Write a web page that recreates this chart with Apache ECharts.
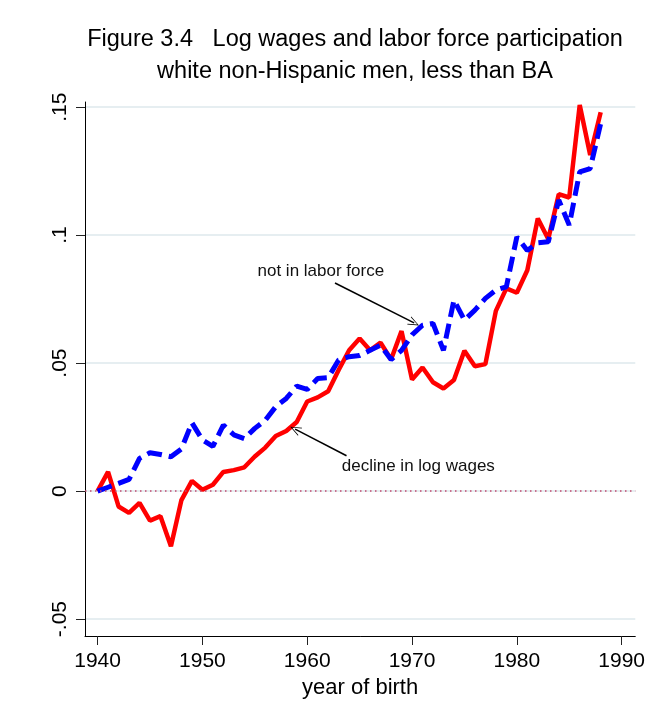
<!DOCTYPE html>
<html>
<head>
<meta charset="utf-8">
<script src="https://cdn.jsdelivr.net/npm/echarts@6/dist/echarts.min.js"></script>
<style>
  html, body { margin: 0; padding: 0; background: #fff; }
  #main { width: 648px; height: 715px; }
</style>
</head>
<body>
<div id="main"></div>
<script>
const years = [];
for (let y = 1940; y <= 1988; y++) years.push(y);

// decline in log wages (red)
const wageDecline = [
  0, 0.0075, -0.006, -0.0085, -0.0046, -0.0115, -0.0098, -0.0215, -0.0035, 0.004,
  0.0005, 0.0025, 0.0075, 0.0082, 0.0093, 0.0135, 0.017, 0.0215, 0.0235, 0.027,
  0.035, 0.0366, 0.039, 0.0473, 0.055, 0.0596, 0.055, 0.058, 0.0514, 0.0625,
  0.0436, 0.0483, 0.0425, 0.0401, 0.0434, 0.0548, 0.0488, 0.0496, 0.0704, 0.0792,
  0.0775, 0.0863, 0.1065, 0.0985, 0.116, 0.1147, 0.1508, 0.1313, 0.148
];

// not in labor force (blue dashed)
const notInLabor = [
  0, 0.0015, 0.003, 0.0046, 0.0128, 0.015, 0.0143, 0.0134, 0.0165, 0.0267,
  0.02, 0.0175, 0.0258, 0.022, 0.0205, 0.0245, 0.0277, 0.033, 0.0362, 0.041,
  0.0397, 0.044, 0.0443, 0.0512, 0.0525, 0.053, 0.055, 0.057, 0.0514, 0.055,
  0.061, 0.0648, 0.0655, 0.055, 0.0746, 0.0668, 0.0707, 0.0753, 0.0785, 0.0798,
  0.0993, 0.094, 0.097, 0.0974, 0.1137, 0.1039, 0.1247, 0.126, 0.1436
];

const xTicks = [1940, 1950, 1960, 1970, 1980, 1990];
const yTicks = [-0.05, 0, 0.05, 0.1, 0.15];
const yTickLabels = ['-.05', '0', '.05', '.1', '.15'];

const font = 'Liberation Sans, Arial, sans-serif';
const chart = echarts.init(document.getElementById('main'));

const openArrow = 'path://M5,0 L10,12 L9,12 L5,2 L1,12 L0,12 Z';

chart.setOption({
  backgroundColor: '#fff',
  animation: false,
  title: {
    text: 'Figure 3.4   Log wages and labor force participation\nwhite non-Hispanic men, less than BA',
    left: 350,
    top: 19,
    textAlign: 'center',
    textStyle: { fontFamily: font, fontSize: 23.5, fontWeight: 'normal', color: '#000', lineHeight: 32 }
  },
  grid: { left: 85, right: 12, top: 102, bottom: 79 },
  xAxis: {
    type: 'value',
    min: 1938.8,
    max: 1991.3,
    name: 'year of birth',
    nameLocation: 'middle',
    nameGap: 37,
    nameTextStyle: { fontFamily: font, fontSize: 22, color: '#000' },
    axisLine: { onZero: false, lineStyle: { color: '#000', width: 1 } },
    axisTick: { customValues: xTicks, length: 9, lineStyle: { color: '#222' } },
    axisLabel: {
      customValues: xTicks, margin: 15,
      fontFamily: font, fontSize: 21, color: '#000',
      formatter: v => String(v)
    },
    splitLine: { show: false }
  },
  yAxis: {
    type: 'value',
    min: -0.0566,
    max: 0.152,
    axisLine: { show: true, onZero: false, lineStyle: { color: '#000', width: 1 } },
    axisTick: { show: true, customValues: yTicks, length: 9, lineStyle: { color: '#222' } },
    axisLabel: {
      customValues: yTicks,
      rotate: 90,
      margin: 14,
      fontFamily: font, fontSize: 21, color: '#000',
      formatter: v => yTickLabels[yTicks.findIndex(t => Math.abs(t - v) < 1e-9)]
    },
    splitLine: { show: true, lineStyle: { color: '#e6eef1', width: 2 } }
  },
  series: [
    {
      name: 'zero',
      type: 'line',
      data: [],
      z: 1,
      markLine: {
        silent: true,
        symbol: 'none',
        label: { show: false },
        lineStyle: { color: '#c04a6e', type: [1.5, 3.5], width: 1.5 },
        data: [{ yAxis: 0 }]
      }
    },
    {
      name: 'not in labor force',
      type: 'line',
      data: years.map((y, i) => [y, notInLabor[i]]),
      showSymbol: false,
      z: 3,
      lineStyle: { color: '#0000ff', width: 5, type: [15, 7] }
    },
    {
      name: 'decline in log wages',
      type: 'line',
      data: years.map((y, i) => [y, wageDecline[i]]),
      showSymbol: false,
      z: 2,
      lineStyle: { color: '#ff0000', width: 4.5 },
      markLine: {
        silent: true,
        symbol: ['none', openArrow],
        symbolSize: [9, 11],
        label: { show: false },
        lineStyle: { color: '#000', width: 1.5, type: 'solid' },
        data: [
          [{ coord: [1962.65, 0.0813] }, { coord: [1970.2, 0.0657] }],
          [{ coord: [1963.75, 0.0138] }, { coord: [1958.85, 0.0242] }]
        ]
      },
      markPoint: {
        silent: true,
        symbol: 'circle',
        symbolSize: 0,
        label: {
          show: true, position: 'inside',
          fontFamily: font, fontSize: 17, color: '#111',
          formatter: p => p.name
        },
        data: [
          { name: 'not in labor force', coord: [1961.3, 0.0857] },
          { name: 'decline in log wages', coord: [1970.6, 0.0095] }
        ]
      }
    }
  ]
});
</script>
</body>
</html>
